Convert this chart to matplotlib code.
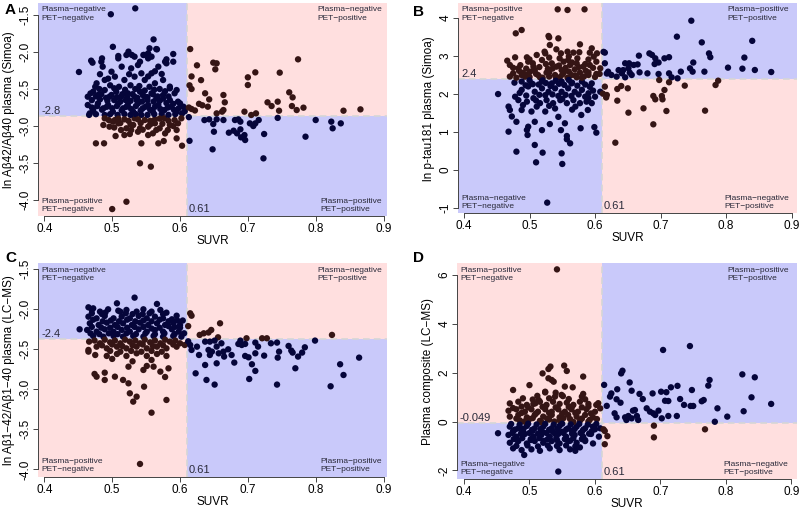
import matplotlib
matplotlib.use("Agg")
import matplotlib.pyplot as plt
from matplotlib.patches import Rectangle

plt.rcParams['font.family'] = ['Liberation Sans', 'DejaVu Sans']

# ---------------- data (SUVR, plasma value) ----------------
panel_a_points = [
    (0.534,-1.41),(0.498,-1.49),(0.451,-2.27),(0.501,-1.93),(0.561,-1.83),(0.555,-1.95),(0.565,-1.96),
    (0.469,-2.117),(0.484,-2.131),(0.509,-2.086),(0.521,-2.04),(0.533,-2.063),(0.547,-2.04),(0.553,-2.086),(0.590,-2.027),
    (0.580,-2.153),(0.568,-2.198),(0.573,-2.297),(0.514,-2.198),(0.499,-2.266),(0.528,-2.221),(0.538,-2.176),(0.543,-2.288),(0.558,-2.288),
    (0.477,-2.423),(0.489,-2.378),(0.504,-2.333),(0.518,-2.378),(0.533,-2.333),(0.548,-2.378),(0.563,-2.423),(0.585,-2.468),(0.592,-2.558),
    (0.464,-2.604),(0.472,-2.536),(0.479,-2.581),(0.489,-2.514),(0.496,-2.604),(0.506,-2.536),(0.513,-2.604),(0.523,-2.558),(0.533,-2.604),
    (0.541,-2.536),(0.548,-2.604),(0.558,-2.558),(0.565,-2.626),(0.575,-2.581),(0.585,-2.649),(0.597,-2.671),(0.605,-2.739),
    (0.464,-2.716),(0.472,-2.784),(0.479,-2.694),(0.487,-2.761),(0.494,-2.716),(0.501,-2.806),(0.509,-2.694),(0.516,-2.761),(0.523,-2.716),
    (0.531,-2.806),(0.538,-2.694),(0.545,-2.761),(0.553,-2.716),(0.560,-2.806),(0.568,-2.716),(0.577,-2.784),(0.587,-2.739),(0.595,-2.806),
    (0.467,-2.829),(0.489,-2.851),(0.518,-2.838),(0.543,-2.851),(0.573,-2.838),
    (0.471,-2.144),(0.485,-2.086),(0.486,-2.198),(0.509,-2.054),(0.524,-1.995),(0.529,-2.04),(0.541,-2.131),(0.546,-2.04),(0.553,-2.018),
    (0.558,-2.063),(0.566,-1.964),(0.578,-2.131),(0.580,-2.099),(0.590,-2.131),(0.575,-2.378),(0.585,-2.491),(0.595,-2.514),(0.600,-2.694),
    (0.470,-2.65),(0.482,-2.64),(0.493,-2.66),(0.503,-2.65),(0.512,-2.67),(0.520,-2.65),(0.527,-2.66),(0.536,-2.65),(0.544,-2.67),
    (0.552,-2.65),(0.561,-2.67),(0.570,-2.66),(0.580,-2.69),(0.590,-2.70),(0.475,-2.47),(0.497,-2.45),(0.510,-2.47),(0.527,-2.45),
    (0.540,-2.46),(0.555,-2.47),(0.570,-2.50),(0.482,-2.30),(0.494,-2.36),(0.525,-2.30),(0.553,-2.33),(0.563,-2.26),(0.598,-2.76),
    (0.607,-2.80),(0.603,-2.83),
    (0.489,-2.896),(0.504,-2.919),(0.518,-2.91),(0.533,-2.896),(0.548,-2.919),(0.563,-2.91),(0.577,-2.896),(0.592,-2.919),(0.602,-2.896),
    (0.487,-2.986),(0.496,-3.009),(0.509,-2.964),(0.521,-3.031),(0.531,-2.986),(0.541,-3.031),(0.553,-3.009),(0.563,-2.964),(0.570,-3.031),
    (0.585,-2.986),(0.595,-3.054),(0.597,-2.964),(0.505,-3.135),(0.518,-3.122),(0.526,-3.108),(0.538,-3.077),(0.560,-3.099),(0.568,-3.234),
    (0.576,-3.203),(0.603,-3.266),(0.595,-3.167),(0.476,-3.234),(0.488,-3.234),(0.543,-3.234),(0.541,-3.504),(0.557,-3.549),
    (0.521,-4.023),(0.500,-4.122),(0.513,-3.054),(0.553,-3.122),(0.565,-3.054),(0.528,-3.054),(0.501,-2.941),(0.560,-2.941),(0.582,-3.054),
    (0.615,-1.96),(0.625,-2.18),(0.617,-2.33),(0.631,-2.38),(0.614,-2.45),(0.617,-2.50),(0.613,-2.75),(0.617,-2.77),(0.622,-2.79),
    (0.628,-2.70),(0.633,-2.72),
    (0.649,-2.144),(0.654,-2.153),(0.652,-2.234),(0.637,-2.558),(0.643,-2.64),(0.641,-2.739),(0.664,-2.581),(0.666,-2.68),(0.662,-2.806),
    (0.654,-2.829),(0.664,-2.784),(0.700,-2.342),(0.711,-2.275),(0.700,-2.446),(0.747,-2.279),(0.774,-2.099),(0.761,-2.545),(0.766,-2.613),
    (0.765,-2.73),(0.772,-2.784),(0.746,-2.793),(0.744,-2.671),(0.729,-2.68),(0.735,-2.73),(0.782,-2.752),(0.695,-2.806),(0.705,-2.851),
    (0.712,-2.829),(0.841,-2.793),(0.866,-2.775),
    (0.643,-2.91),(0.649,-2.973),(0.654,-2.91),(0.664,-2.919),(0.650,-3.077),(0.648,-3.315),(0.681,-2.919),(0.686,-2.91),(0.689,-2.941),
    (0.672,-3.09),(0.679,-3.063),(0.684,-3.099),(0.689,-3.045),(0.690,-3.153),(0.695,-3.122),(0.696,-3.189),(0.703,-2.964),(0.708,-3.0),
    (0.711,-2.964),(0.716,-2.919),(0.724,-3.108),(0.723,-3.437),(0.744,-2.89),(0.785,-3.144),(0.800,-2.919),(0.823,-2.941),(0.825,-3.031),
    (0.837,-2.964),(0.613,-2.88),(0.614,-3.20),(0.636,-2.92),
]
panel_a_core = [
    (0.468,-2.56),(0.476,-2.60),(0.484,-2.57),(0.491,-2.62),(0.499,-2.58),(0.507,-2.61),(0.515,-2.57),(0.522,-2.61),(0.530,-2.57),
    (0.537,-2.62),(0.545,-2.58),(0.552,-2.61),(0.560,-2.57),(0.567,-2.60),(0.575,-2.63),(0.583,-2.60),
    (0.470,-2.75),(0.478,-2.73),(0.485,-2.78),(0.492,-2.74),(0.500,-2.76),(0.507,-2.73),(0.514,-2.79),(0.521,-2.74),(0.528,-2.77),
    (0.535,-2.73),(0.542,-2.79),(0.549,-2.74),(0.556,-2.78),(0.563,-2.74),(0.571,-2.77),(0.582,-2.75),(0.591,-2.78),
    (0.466,-2.85),(0.476,-2.84),(0.497,-2.84),(0.508,-2.85),(0.527,-2.85),(0.535,-2.84),(0.552,-2.85),(0.562,-2.84),(0.583,-2.85),(0.593,-2.84),
    (0.481,-2.50),(0.503,-2.49),(0.519,-2.51),(0.534,-2.50),(0.548,-2.52),(0.562,-2.51),(0.578,-2.53),
    (0.495,-2.92),(0.509,-2.90),(0.524,-2.93),(0.538,-2.91),(0.556,-2.93),(0.570,-2.90),(0.583,-2.93),(0.512,-2.96),(0.527,-2.98),
    (0.542,-2.96),(0.556,-2.98),(0.574,-2.97),(0.590,-3.00),(0.503,-3.02),(0.545,-3.05),(0.578,-3.10),
]

panel_b_points = [
    (0.543,4.219),(0.558,4.202),(0.584,4.219),(0.479,3.588),(0.488,3.675),(0.529,3.518),(0.530,3.482),(0.544,3.456),(0.531,3.281),
    (0.577,3.298),(0.595,3.193),(0.541,3.167),(0.558,3.105),(0.548,3.061),(0.567,3.08),(0.576,3.09),(0.524,3.06),
    (0.466,2.868),(0.478,2.956),(0.496,2.956),(0.511,3.018),(0.523,3.105),(0.546,2.93),(0.559,2.886),(0.573,2.93),(0.592,3.079),
    (0.598,2.974),(0.603,3.061),(0.470,2.754),(0.483,2.667),(0.498,2.842),(0.506,2.711),(0.519,2.886),(0.534,2.798),(0.541,2.711),
    (0.552,2.842),(0.562,2.754),(0.572,2.798),(0.582,2.711),(0.592,2.754),(0.602,2.842),(0.608,2.667),
    (0.475,2.535),(0.488,2.491),(0.501,2.579),(0.513,2.491),(0.526,2.553),(0.539,2.491),(0.552,2.553),(0.564,2.491),(0.577,2.553),
    (0.590,2.491),(0.602,2.518),(0.493,2.447),(0.516,2.43),(0.546,2.43),(0.572,2.43),(0.484,2.60),(0.508,2.62),(0.528,2.65),
    (0.549,2.62),(0.569,2.64),(0.586,2.60),(0.497,2.50),(0.530,2.45),(0.558,2.42),(0.583,2.45),
    (0.452,1.99),(0.477,2.29),(0.468,1.66),(0.470,1.57),(0.473,1.40),(0.480,1.26),(0.468,1.00),(0.480,0.474),(0.496,1.045),
    (0.497,0.913),(0.508,0.65),(0.520,0.448),(0.510,0.193),(0.549,0.429),(0.550,0.15),(0.527,-0.868),(0.498,1.13),(0.508,1.26),
    (0.519,1.04),(0.531,1.20),(0.544,1.39),(0.548,1.04),(0.554,1.22),(0.557,0.886),(0.562,0.693),(0.565,1.58),(0.578,1.09),
    (0.579,1.44),(0.589,1.57),(0.599,1.12),(0.602,0.974),(0.557,0.80),
    (0.488,2.10),(0.498,2.19),(0.508,2.05),(0.519,2.14),(0.529,2.05),(0.539,2.14),(0.549,2.05),(0.559,2.14),(0.569,2.05),(0.580,2.10),
    (0.590,2.01),(0.600,1.92),(0.608,2.05),(0.483,1.83),(0.496,1.79),(0.506,1.88),(0.516,1.75),(0.526,1.83),(0.536,1.75),(0.547,1.83),
    (0.557,1.75),(0.567,1.83),(0.577,1.75),(0.587,1.79),(0.595,1.75),(0.488,2.32),(0.503,2.27),(0.519,2.32),(0.534,2.27),(0.549,2.32),
    (0.564,2.27),(0.580,2.32),(0.595,2.27),(0.488,1.57),(0.503,1.53),(0.511,1.66),(0.524,1.53),(0.539,1.61),(0.478,1.92),(0.524,1.96),
    (0.544,1.94),(0.564,1.94),(0.585,1.92),(0.494,2.22),(0.514,2.24),(0.532,2.20),(0.553,2.23),(0.573,2.21),(0.592,2.18),
    (0.613,3.10),(0.618,2.53),(0.615,3.08),(0.667,3.00),(0.683,3.06),(0.687,3.02),(0.692,2.93),(0.697,2.82),(0.691,2.78),(0.706,2.93),
    (0.713,2.96),(0.750,2.82),(0.774,3.06),(0.776,2.96),(0.828,2.95),(0.747,3.92),(0.725,3.50),(0.763,3.35),(0.840,3.39),
    (0.615,2.80),(0.646,2.80),(0.652,2.80),(0.659,2.755),(0.665,2.77),(0.636,2.62),(0.643,2.62),(0.651,2.667),(0.653,2.553),
    (0.668,2.562),(0.680,2.535),(0.697,2.518),(0.713,2.535),(0.731,2.579),(0.745,2.667),(0.749,2.579),(0.767,2.579),(0.803,2.685),
    (0.825,2.658),(0.844,2.623),(0.869,2.57),(0.620,2.579),(0.625,2.492),(0.633,2.448),(0.641,2.535),(0.646,2.43),(0.656,2.492),
    (0.717,2.43),(0.726,2.404),
    (0.615,2.185),(0.618,1.965),(0.634,2.123),(0.640,2.202),(0.650,2.141),(0.634,1.816),(0.651,1.50),(0.674,1.614),(0.689,1.939),
    (0.692,1.851),(0.702,1.939),(0.703,1.851),(0.706,2.097),(0.709,1.544),(0.713,2.30),(0.698,2.36),(0.737,2.211),(0.768,1.553),
    (0.784,2.228),(0.788,2.342),(0.689,1.193),(0.631,0.71),(0.612,2.00),(0.617,1.90),
]
panel_b_core = [
    (0.470,2.45),(0.480,2.42),(0.490,2.55),(0.500,2.44),(0.510,2.52),(0.520,2.42),(0.530,2.56),(0.540,2.44),(0.550,2.50),(0.560,2.58),
    (0.570,2.48),(0.580,2.42),(0.590,2.56),(0.600,2.44),(0.607,2.52),
    (0.475,2.68),(0.486,2.75),(0.495,2.66),(0.505,2.80),(0.515,2.70),(0.525,2.78),(0.535,2.66),(0.545,2.74),(0.555,2.68),(0.565,2.82),
    (0.575,2.70),(0.585,2.78),(0.597,2.68),(0.500,2.90),(0.530,2.95),(0.560,2.98),(0.590,2.90),
    (0.485,2.02),(0.495,1.95),(0.505,2.25),(0.515,1.97),(0.525,2.28),(0.535,1.98),(0.545,2.26),(0.555,1.97),(0.565,2.29),(0.575,1.98),
    (0.585,2.24),(0.597,2.08),(0.490,1.70),(0.510,1.82),(0.530,1.68),(0.550,1.86),(0.570,1.66),(0.590,1.88),(0.520,2.35),(0.540,2.34),
    (0.560,2.36),(0.500,2.35),
]

panel_c_points = [
    (0.533,-1.854),(0.507,-1.925),(0.566,-1.933),(0.465,-1.975),(0.472,-1.988),(0.452,-2.25),
    (0.470,-2.008),(0.482,-2.029),(0.494,-2.000),(0.509,-2.017),(0.521,-2.008),(0.536,-2.029),(0.546,-2.000),(0.558,-2.029),(0.571,-2.008),(0.580,-2.042),
    (0.465,-2.092),(0.477,-2.113),(0.489,-2.083),(0.502,-2.113),(0.514,-2.092),(0.526,-2.113),(0.539,-2.083),(0.551,-2.113),(0.563,-2.092),(0.575,-2.113),(0.588,-2.125),
    (0.467,-2.175),(0.480,-2.196),(0.492,-2.167),(0.504,-2.196),(0.516,-2.175),(0.529,-2.196),(0.541,-2.167),(0.553,-2.196),(0.566,-2.175),(0.578,-2.196),(0.590,-2.167),(0.600,-2.196),
    (0.463,-2.258),(0.477,-2.279),(0.489,-2.250),(0.502,-2.279),(0.514,-2.258),(0.526,-2.279),(0.539,-2.250),(0.551,-2.279),(0.563,-2.258),(0.575,-2.279),(0.588,-2.250),(0.598,-2.279),
    (0.472,-2.333),(0.487,-2.342),(0.502,-2.333),(0.516,-2.342),(0.531,-2.333),(0.546,-2.342),(0.561,-2.333),(0.575,-2.342),(0.590,-2.333),(0.602,-2.342),
    (0.600,-2.23),(0.604,-2.14),(0.485,-2.06),(0.520,-2.05),(0.545,-2.06),(0.497,-2.23),(0.533,-2.22),(0.558,-2.24),(0.583,-2.21),
    (0.466,-2.404),(0.482,-2.425),(0.497,-2.413),(0.512,-2.425),(0.526,-2.404),(0.541,-2.425),(0.556,-2.413),(0.571,-2.425),(0.585,-2.404),(0.600,-2.425),(0.607,-2.446),
    (0.465,-2.508),(0.477,-2.467),(0.492,-2.488),(0.507,-2.467),(0.521,-2.488),(0.536,-2.467),(0.551,-2.488),(0.566,-2.467),(0.580,-2.488),(0.595,-2.467),
    (0.475,-2.571),(0.492,-2.583),(0.507,-2.558),(0.521,-2.583),(0.536,-2.550),(0.551,-2.583),(0.566,-2.558),(0.580,-2.583),
    (0.474,-2.808),(0.477,-2.842),(0.489,-2.792),(0.489,-2.883),(0.504,-2.842),(0.516,-2.883),(0.524,-2.717),(0.526,-3.050),(0.531,-3.154),
    (0.536,-3.092),(0.546,-2.758),(0.547,-2.967),(0.551,-2.708),(0.558,-3.292),(0.561,-2.717),(0.571,-2.779),(0.578,-2.846),(0.580,-3.133),
    (0.583,-2.738),(0.541,-3.933),(0.524,-2.925),(0.558,-2.633),(0.465,-2.529),(0.530,-2.65),(0.500,-2.62),
    (0.659,-2.175),(0.646,-2.258),(0.642,-2.290),(0.656,-2.350),(0.698,-2.362),(0.721,-2.362),(0.728,-2.362),(0.824,-2.320),
    (0.615,-2.05),(0.617,-2.08),(0.612,-2.21),(0.629,-2.32),(0.635,-2.30),
    (0.637,-2.404),(0.644,-2.404),(0.651,-2.391),(0.661,-2.425),(0.654,-2.466),(0.642,-2.508),(0.647,-2.529),(0.657,-2.550),(0.644,-2.571),
    (0.664,-2.529),(0.671,-2.500),(0.686,-2.433),(0.689,-2.391),(0.691,-2.446),(0.696,-2.433),(0.711,-2.416),(0.715,-2.466),(0.734,-2.425),
    (0.743,-2.416),(0.760,-2.458),(0.764,-2.516),(0.766,-2.541),(0.746,-2.529),(0.784,-2.475),(0.780,-2.541),(0.799,-2.391),(0.637,-2.696),
    (0.654,-2.675),(0.680,-2.666),(0.665,-2.591),(0.676,-2.571),(0.696,-2.583),(0.701,-2.600),(0.711,-2.550),(0.724,-2.579),(0.744,-2.604),
    (0.774,-2.591),(0.706,-2.687),(0.711,-2.770),(0.770,-2.737),(0.702,-2.871),(0.639,-2.883),(0.651,-2.941),(0.743,-2.941),(0.822,-2.962),
    (0.836,-2.687),(0.841,-2.821),(0.864,-2.604),(0.615,-2.446),(0.617,-2.508),(0.625,-2.467),(0.628,-2.571),(0.623,-2.800),(0.612,-2.400),
]
panel_c_core = [
    (0.470,-2.05),(0.490,-2.04),(0.512,-2.03),(0.530,-2.06),(0.555,-2.05),(0.575,-2.06),(0.595,-2.08),
    (0.472,-2.13),(0.486,-2.15),(0.498,-2.14),(0.510,-2.15),(0.522,-2.13),(0.534,-2.15),(0.546,-2.14),(0.558,-2.15),(0.570,-2.13),
    (0.583,-2.15),(0.596,-2.14),(0.470,-2.22),(0.484,-2.23),(0.508,-2.22),(0.522,-2.23),(0.546,-2.22),(0.570,-2.23),(0.592,-2.22),
    (0.468,-2.30),(0.481,-2.31),(0.495,-2.30),(0.508,-2.31),(0.521,-2.30),(0.535,-2.31),(0.549,-2.30),(0.563,-2.31),(0.577,-2.30),
    (0.592,-2.31),(0.606,-2.30),
    (0.474,-2.39),(0.489,-2.38),(0.504,-2.39),(0.519,-2.38),(0.534,-2.39),(0.548,-2.38),(0.563,-2.39),(0.578,-2.38),(0.593,-2.39),
    (0.485,-2.45),(0.500,-2.44),(0.515,-2.46),(0.530,-2.45),(0.545,-2.44),(0.560,-2.46),(0.575,-2.45),(0.590,-2.44),
    (0.497,-2.52),(0.512,-2.53),(0.528,-2.52),(0.543,-2.53),(0.558,-2.52),(0.573,-2.53),
]

panel_d_points = [
    (0.542,6.23),(0.553,2.29),(0.532,2.25),(0.529,2.15),(0.557,2.07),(0.520,1.97),(0.529,1.77),(0.537,1.63),(0.582,1.84),(0.500,1.49),
    (0.475,1.29),(0.566,1.40),(0.524,1.19),(0.540,1.18),(0.551,1.04),(0.580,1.02),(0.585,0.91),(0.534,1.70),(0.554,1.43),(0.582,1.13),
    (0.524,1.22),(0.539,1.02),(0.549,1.09),(0.488,0.61),(0.509,0.745),(0.514,0.88),(0.524,0.61),(0.565,0.61),(0.590,0.61),(0.605,0.75),
    (0.470,0.74),(0.483,0.81),(0.496,0.68),(0.506,0.72),(0.516,0.81),(0.526,0.68),(0.536,0.81),(0.546,0.72),(0.557,0.77),(0.567,0.68),
    (0.577,0.81),(0.590,0.72),(0.602,0.68),
    (0.468,0.44),(0.480,0.50),(0.493,0.40),(0.503,0.50),(0.513,0.40),(0.524,0.50),(0.534,0.40),(0.544,0.50),(0.554,0.40),(0.564,0.50),
    (0.574,0.40),(0.587,0.50),(0.600,0.40),
    (0.470,0.20),(0.483,0.27),(0.496,0.17),(0.508,0.27),(0.521,0.20),(0.534,0.27),(0.546,0.17),(0.559,0.27),(0.572,0.20),(0.585,0.27),
    (0.597,0.17),(0.485,0.05),(0.516,0.03),(0.546,0.05),(0.577,0.03),(0.500,0.10),(0.530,0.08),(0.562,0.10),(0.592,0.07),
    (0.452,-0.48),(0.544,-2.05),
    (0.470,-0.21),(0.483,-0.28),(0.496,-0.18),(0.508,-0.28),(0.521,-0.21),(0.534,-0.28),(0.546,-0.18),(0.559,-0.28),(0.572,-0.21),
    (0.585,-0.28),(0.597,-0.21),(0.608,-0.28),
    (0.475,-0.40),(0.490,-0.42),(0.505,-0.38),(0.520,-0.43),(0.535,-0.40),(0.550,-0.42),(0.565,-0.38),(0.580,-0.43),(0.595,-0.40),
    (0.468,-0.55),(0.480,-0.62),(0.493,-0.51),(0.506,-0.62),(0.518,-0.55),(0.531,-0.62),(0.544,-0.51),(0.556,-0.62),(0.569,-0.55),
    (0.582,-0.62),(0.594,-0.51),(0.606,-0.62),
    (0.476,-0.72),(0.489,-0.68),(0.502,-0.72),(0.515,-0.68),(0.528,-0.72),(0.541,-0.68),(0.554,-0.72),(0.567,-0.68),(0.580,-0.72),
    (0.470,-0.87),(0.483,-0.80),(0.496,-0.90),(0.508,-0.80),(0.521,-0.87),(0.534,-0.80),(0.546,-0.90),(0.559,-0.80),(0.572,-0.87),
    (0.585,-0.80),(0.597,-0.90),
    (0.480,-1.00),(0.497,-0.98),(0.513,-1.02),(0.528,-0.98),(0.542,-1.00),(0.556,-0.98),(0.570,-1.02),
    (0.475,-1.10),(0.488,-1.17),(0.503,-1.14),(0.516,-1.20),(0.531,-1.10),(0.546,-1.17),(0.562,-1.14),(0.577,-1.06),(0.492,-1.37),(0.570,-1.20),
    (0.704,2.93),(0.745,3.09),(0.642,2.08),(0.640,1.97),(0.614,1.50),(0.653,1.60),(0.634,1.32),(0.656,1.26),(0.625,1.15),(0.623,1.02),
    (0.633,0.91),(0.639,0.77),(0.618,0.64),(0.608,0.54),(0.668,1.13),(0.673,0.92),(0.688,1.15),(0.701,1.22),(0.709,1.20),(0.716,1.40),
    (0.726,1.46),(0.707,0.85),(0.712,0.84),(0.730,0.92),(0.748,1.29),(0.736,0.68),(0.746,0.636),(0.750,0.636),(0.763,0.83),(0.766,0.88),
    (0.773,1.47),(0.775,1.70),(0.787,0.54),(0.802,0.20),(0.783,-0.01),(0.825,1.93),(0.844,1.81),(0.839,0.99),(0.827,0.42),(0.869,0.72),
    (0.630,0.335),(0.633,0.171),(0.646,0.171),(0.648,0.062),(0.651,0.226),(0.656,0.130),(0.658,0.444),(0.664,0.226),(0.666,0.062),
    (0.679,0.540),(0.684,0.403),(0.689,0.335),(0.692,0.267),(0.697,0.444),(0.702,0.130),(0.712,0.226),(0.725,0.226),(0.661,0.470),
    (0.613,-0.32),(0.615,-0.39),(0.619,-0.60),(0.615,-0.93),(0.690,-0.17),(0.690,-0.65),(0.768,-0.32),
]
panel_d_core = [
    (0.475,0.55),(0.488,0.35),(0.498,0.58),(0.510,0.33),(0.520,0.60),(0.530,0.35),(0.540,0.58),(0.550,0.33),(0.560,0.60),(0.570,0.35),
    (0.580,0.58),(0.594,0.33),(0.480,0.12),(0.492,0.00),(0.505,0.14),(0.518,-0.02),(0.527,0.12),(0.538,0.00),(0.552,0.14),(0.567,-0.02),
    (0.580,0.12),(0.590,0.00),(0.603,0.10),(0.490,0.95),(0.512,1.05),(0.530,0.95),(0.560,0.92),(0.505,0.90),
    (0.472,-0.10),(0.485,-0.13),(0.498,-0.09),(0.511,-0.12),(0.524,-0.10),(0.537,-0.13),(0.550,-0.09),(0.563,-0.12),(0.576,-0.10),
    (0.589,-0.13),(0.602,-0.10),(0.478,-0.33),(0.491,-0.30),(0.504,-0.34),(0.517,-0.31),(0.530,-0.34),(0.543,-0.30),(0.556,-0.33),
    (0.569,-0.31),(0.582,-0.34),(0.600,-0.32),(0.474,-0.47),(0.487,-0.50),(0.500,-0.47),(0.513,-0.50),(0.526,-0.47),(0.539,-0.50),
    (0.552,-0.47),(0.565,-0.50),(0.578,-0.47),(0.591,-0.50),(0.482,-0.78),(0.502,-0.76),(0.522,-0.79),(0.542,-0.76),(0.562,-0.79),
    (0.585,-0.76),
]

suvr_cutoff = 0.61
cutoffs = {"A": -2.865, "B": 2.378, "C": -2.365, "D": -0.062}
cutoff_labels = {"A": "-2.8", "B": "2.4", "C": "-2.4", "D": "-0.049"}
y_labels = {
    "A": "ln A\u03b242/A\u03b240 plasma (Simoa)",
    "B": "ln p-tau181 plasma (Simoa)",
    "C": "ln A\u03b21\u221242/A\u03b21\u221240 plasma (LC\u2212MS)",
    "D": "Plasma composite (LC\u2212MS)",
}
y_ticks = {
    "A": [-1.5, -2.0, -2.5, -3.0, -3.5, -4.0],
    "B": [4, 3, 2, 1, 0, -1],
    "C": [-1.5, -2.0, -2.5, -3.0, -3.5, -4.0],
    "D": [6, 4, 2, 0, -2],
}
y_tick_labels = {
    "A": ["-1.5", "-2.0", "-2.5", "-3.0", "-3.5", "-4.0"],
    "B": ["4", "3", "2", "1", "0", "-1"],
    "C": ["-1.5", "-2.0", "-2.5", "-3.0", "-3.5", "-4.0"],
    "D": ["6", "4", "2", "0", "-2"],
}
x_ticks = [0.4, 0.5, 0.6, 0.7, 0.8, 0.9]
x_tick_labels = ["0.4", "0.5", "0.6", "0.7", "0.8", "0.9"]
# whether low plasma values mean "plasma-positive"
low_is_positive = {"A": True, "B": False, "C": True, "D": False}

# ---------------- layout / style ----------------
BLUE_BG = "#C9C9FA"
PINK_BG = "#FFDFDF"
NAVY = "#05053A"
BROWN = "#351515"
TXT = "#2a2a3a"

layout = {
    "A": dict(rect=[0.0479, 0.5756, 0.4359, 0.4179], xlim=(0.3911, 0.9052), ylim=(-4.216, -1.342), tr_x=0.986),
    "B": dict(rect=[0.5729, 0.5809, 0.4238, 0.4126], xlim=(0.3913, 0.9089), ylim=(-1.149, 4.378), tr_x=0.975),
    "C": dict(rect=[0.0479, 0.0635, 0.4355, 0.4192], xlim=(0.3911, 0.9047), ylim=(-4.092, -1.425), tr_x=0.986),
    "D": dict(rect=[0.5716, 0.0584, 0.4246, 0.4243], xlim=(0.3898, 0.9084), ylim=(-2.366, 6.479), tr_x=0.975),
}
points = {
    "A": panel_a_points + panel_a_core,
    "B": panel_b_points + panel_b_core,
    "C": panel_c_points + panel_c_core,
    "D": panel_d_points + panel_d_core,
}

fig = plt.figure(figsize=(8.0, 5.09), dpi=100)

for key in ["A", "B", "C", "D"]:
    L = layout[key]
    ax = fig.add_axes(L["rect"])
    x0, x1 = L["xlim"]
    y0, y1 = L["ylim"]
    thr = cutoffs[key]
    low_pos = low_is_positive[key]

    # quadrant shading: concordant = blue, discordant = pink
    quads = [
        (x0, suvr_cutoff, thr, y1, False, not low_pos),  # upper-left
        (suvr_cutoff, x1, thr, y1, True, not low_pos),   # upper-right
        (x0, suvr_cutoff, y0, thr, False, low_pos),      # lower-left
        (suvr_cutoff, x1, y0, thr, True, low_pos),       # lower-right
    ]
    for qx0, qx1, qy0, qy1, pet_pos, plasma_pos in quads:
        col = BLUE_BG if pet_pos == plasma_pos else PINK_BG
        ax.add_patch(Rectangle((qx0, qy0), qx1 - qx0, qy1 - qy0, facecolor=col,
                               edgecolor="none", zorder=0))

    ax.axhline(thr, color="#d6d6d6", lw=1.2, ls=(0, (4, 2.5)), zorder=1)
    ax.axvline(suvr_cutoff, color="#d6d6d6", lw=1.2, ls=(0, (4, 2.5)), zorder=1)

    xs = [p[0] for p in points[key]]
    ys = [p[1] for p in points[key]]
    cols = []
    for xv, yv in zip(xs, ys):
        pet_pos = xv >= suvr_cutoff
        plasma_pos = (yv < thr) if low_pos else (yv >= thr)
        cols.append(NAVY if pet_pos == plasma_pos else BROWN)
    ax.scatter(xs, ys, s=21, c=cols, linewidths=0, zorder=3)

    ax.set_xlim(x0, x1)
    ax.set_ylim(y0, y1)
    ax.set_xticks(x_ticks)
    ax.set_xticklabels(x_tick_labels, fontsize=8.5)
    ax.set_yticks(y_ticks[key])
    ax.set_yticklabels(y_tick_labels[key], fontsize=8.5, rotation=90, va="center")
    ax.tick_params(direction="out", length=3.5, width=0.7, color="#444444", pad=1.5)
    for s in ["top", "right"]:
        ax.spines[s].set_visible(False)
    ax.spines["left"].set_bounds(min(y_ticks[key]), max(y_ticks[key]))
    ax.spines["bottom"].set_bounds(0.4, 0.9)
    for s in ["left", "bottom"]:
        ax.spines[s].set_color("#444444")
        ax.spines[s].set_linewidth(0.7)

    ax.set_xlabel("SUVR", fontsize=8.5, labelpad=0)
    ax.set_ylabel(y_labels[key], fontsize=8.5, labelpad=3)

    # threshold labels
    ax.text(0.008, thr, cutoff_labels[key], transform=ax.get_yaxis_transform(),
            fontsize=8, color=TXT, ha="left", va="bottom", zorder=4)
    ax.text(suvr_cutoff + 0.003, 0.01, "0.61", transform=ax.get_xaxis_transform(),
            fontsize=8, color=TXT, ha="left", va="bottom", zorder=4)

    # quadrant text
    if low_pos:
        tl, tr = "Plasma\u2212negative\nPET\u2212negative", "Plasma\u2212negative\nPET\u2212positive"
        bl, br = "Plasma\u2212positive\nPET\u2212negative", "Plasma\u2212positive\nPET\u2212positive"
    else:
        tl, tr = "Plasma\u2212positive\nPET\u2212negative", "Plasma\u2212positive\nPET\u2212positive"
        bl, br = "Plasma\u2212negative\nPET\u2212negative", "Plasma\u2212negative\nPET\u2212positive"
    fs = 6.0
    rx = L["tr_x"]
    ax.text(0.008, 0.985, tl, transform=ax.transAxes, fontsize=fs, color=TXT,
            ha="left", va="top", linespacing=1.25, zorder=4, multialignment="left")
    t = ax.text(rx, 0.985, tr, transform=ax.transAxes, fontsize=fs, color=TXT,
                ha="right", va="top", linespacing=1.25, zorder=4, multialignment="left")
    ax.text(0.008, 0.015, bl, transform=ax.transAxes, fontsize=fs, color=TXT,
            ha="left", va="bottom", linespacing=1.25, zorder=4, multialignment="left")
    ax.text(rx, 0.015, br, transform=ax.transAxes, fontsize=fs, color=TXT,
            ha="right", va="bottom", linespacing=1.25, zorder=4, multialignment="left")

# panel letters
fig.text(5 / 800, 1 - 10 / 509, "A", fontsize=11, fontweight="bold", va="center", ha="left")
fig.text(413 / 800, 1 - 12 / 509, "B", fontsize=11, fontweight="bold", va="center", ha="left")
fig.text(5 / 800, 1 - 258 / 509, "C", fontsize=11, fontweight="bold", va="center", ha="left")
fig.text(413 / 800, 1 - 258 / 509, "D", fontsize=11, fontweight="bold", va="center", ha="left")

fig.savefig("out.png", dpi=100)
